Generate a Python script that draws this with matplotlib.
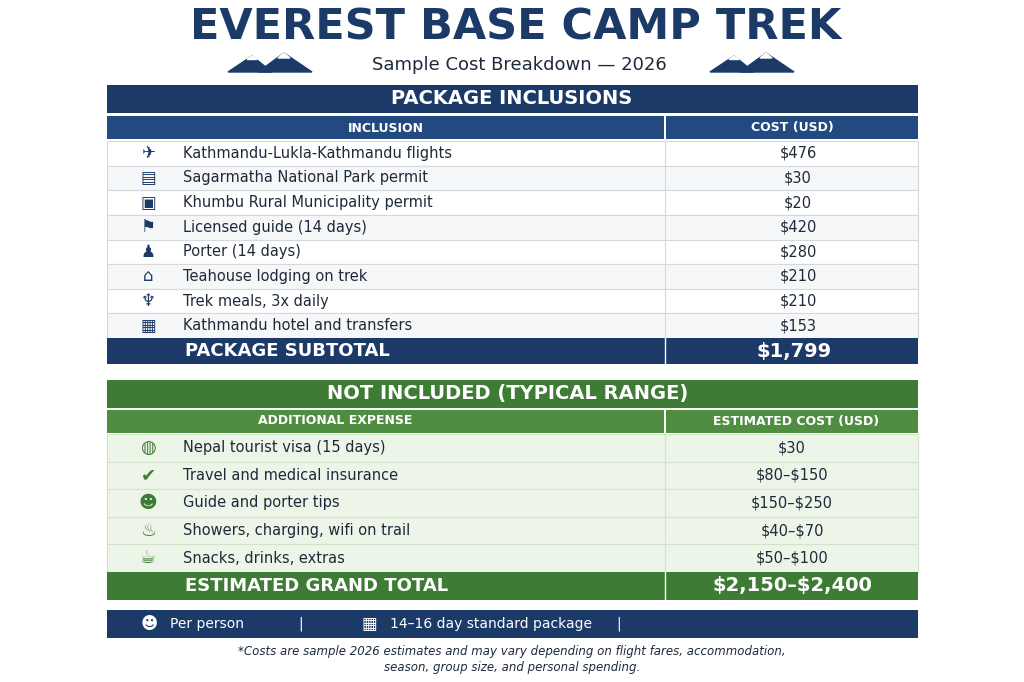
import matplotlib
matplotlib.use("Agg")
import matplotlib.pyplot as plt
from matplotlib.patches import Rectangle, Polygon

plt.rcParams['font.family'] = ['DejaVu Sans']
plt.rcParams['text.parse_math'] = False

title = "EVEREST BASE CAMP TREK"
subtitle = "Sample Cost Breakdown — 2026"

incl_items = ["Kathmandu-Lukla-Kathmandu flights", "Sagarmatha National Park permit",
              "Khumbu Rural Municipality permit", "Licensed guide (14 days)",
              "Porter (14 days)", "Teahouse lodging on trek", "Trek meals, 3x daily",
              "Kathmandu hotel and transfers"]
incl_costs = ["$476", "$30", "$20", "$420", "$280", "$210", "$210", "$153"]
incl_icons = ["✈", "▤", "▣", "⚑", "♟", "⌂", "♆", "▦"]
incl_total = "$1,799"

extra_items = ["Nepal tourist visa (15 days)", "Travel and medical insurance",
               "Guide and porter tips", "Showers, charging, wifi on trail",
               "Snacks, drinks, extras"]
extra_costs = ["$30", "$80–$150", "$150–$250", "$40–$70", "$50–$100"]
extra_icons = ["◍", "✔", "☻", "♨", "☕"]
grand_total = "$2,150–$2,400"

footnote = ["*Costs are sample 2026 estimates and may vary depending on flight fares, accommodation,",
            "season, group size, and personal spending."]

NAVY = "#1c3a68"
NAVY2 = "#234a80"
GREEN = "#3e7b34"
GREEN2 = "#4f8e40"
LGREEN = "#edf5e8"
TXT = "#1e2a3a"

fig = plt.figure(figsize=(10.24, 6.82), dpi=100)
ax = fig.add_axes([0, 0, 1, 1])
ax.set_xlim(0, 1024)
ax.set_ylim(682, 0)
ax.axis("off")

X0, X1, XC = 107, 918, 665

def bar(y0, y1, color, x0=X0, x1=X1):
    ax.add_patch(Rectangle((x0, y0), x1 - x0, y1 - y0, color=color, lw=0))

def mountains(cx):
    ax.add_patch(Polygon([(cx - 42, 72), (cx - 18, 56), (cx + 2, 72)], color=NAVY))
    ax.add_patch(Polygon([(cx - 12, 72), (cx + 14, 53), (cx + 42, 72)], color=NAVY))
    ax.add_patch(Polygon([(cx + 8, 58), (cx + 14, 53), (cx + 20, 58)], color="white"))
    ax.add_patch(Polygon([(cx - 23, 59.5), (cx - 18, 56), (cx - 13, 59.5)], color="white"))

ax.text(516, 27, title, ha="center", va="center", fontsize=31, fontweight="black", color=NAVY)
ax.text(519, 65, subtitle, ha="center", va="center", fontsize=13, color=TXT)
mountains(270)
mountains(752)

# table 1
bar(85, 113, NAVY)
ax.text(512, 99, "PACKAGE INCLUSIONS", ha="center", va="center", fontsize=14, fontweight="bold", color="white")
bar(116, 139, NAVY2, x1=XC - 1)
bar(116, 139, NAVY2, x0=XC + 1)
ax.text(386, 128, "INCLUSION", ha="center", va="center", fontsize=9, fontweight="bold", color="white")
ax.text(792, 128, "COST (USD)", ha="center", va="center", fontsize=9, fontweight="bold", color="white")
rh = (338 - 141) / len(incl_items)
for i, (name, cost, ic) in enumerate(zip(incl_items, incl_costs, incl_icons)):
    yc = 141 + rh * (i + 0.5)
    ax.add_patch(Rectangle((X0, 141 + rh * i), X1 - X0, rh, facecolor="white" if i % 2 == 0 else "#f6f7f9",
                           edgecolor="#d5d9df", lw=0.8))
    ax.text(148, yc, ic, ha="center", va="center", fontsize=12, color=NAVY)
    ax.text(183, yc, name, ha="left", va="center", fontsize=10.5, color=TXT)
    ax.text(798, yc, cost, ha="center", va="center", fontsize=10.5, color=TXT)
ax.plot([XC, XC], [141, 338], color="#d5d9df", lw=0.8)
bar(338, 364, NAVY)
ax.plot([XC, XC], [338, 364], color="white", lw=1)
ax.text(185, 351, "PACKAGE SUBTOTAL", ha="left", va="center", fontsize=13, fontweight="bold", color="white")
ax.text(794, 351, incl_total, ha="center", va="center", fontsize=14, fontweight="bold", color="white")

# table 2
bar(380, 408, GREEN)
ax.text(508, 394, "NOT INCLUDED (TYPICAL RANGE)", ha="center", va="center", fontsize=14, fontweight="bold", color="white")
bar(410, 433, GREEN2, x1=XC - 1)
bar(410, 433, GREEN2, x0=XC + 1)
ax.text(335, 421, "ADDITIONAL EXPENSE", ha="center", va="center", fontsize=9, fontweight="bold", color="white")
ax.text(796, 421, "ESTIMATED COST (USD)", ha="center", va="center", fontsize=9, fontweight="bold", color="white")
rh2 = (572 - 434) / len(extra_items)
for i, (name, cost, ic) in enumerate(zip(extra_items, extra_costs, extra_icons)):
    yc = 434 + rh2 * (i + 0.5)
    ax.add_patch(Rectangle((X0, 434 + rh2 * i), X1 - X0, rh2, facecolor=LGREEN, edgecolor="#d3e2cb", lw=0.8))
    ax.text(148, yc, ic, ha="center", va="center", fontsize=13, color=GREEN)
    ax.text(183, yc, name, ha="left", va="center", fontsize=10.5, color=TXT)
    ax.text(792, yc, cost, ha="center", va="center", fontsize=10.5, color=TXT)
ax.plot([XC, XC], [434, 572], color="#d3e2cb", lw=0.8)
bar(572, 600, GREEN)
ax.plot([XC, XC], [572, 600], color="white", lw=1)
ax.text(185, 586, "ESTIMATED GRAND TOTAL", ha="left", va="center", fontsize=13, fontweight="bold", color="white")
ax.text(792, 586, grand_total, ha="center", va="center", fontsize=14, fontweight="bold", color="white")

# footer
bar(610, 638, NAVY)
ax.text(149, 624, "☻", ha="center", va="center", fontsize=12, color="white")
ax.text(170, 624, "Per person", ha="left", va="center", fontsize=10, color="white")
ax.text(301, 624, "|", ha="center", va="center", fontsize=10, color="white")
ax.text(369, 624, "▦", ha="center", va="center", fontsize=12, color="white")
ax.text(390, 624, "14–16 day standard package", ha="left", va="center", fontsize=10, color="white")
ax.text(619, 624, "|", ha="center", va="center", fontsize=10, color="white")

ax.text(512, 652, footnote[0], ha="center", va="center", fontsize=8.5, style="italic", color=TXT)
ax.text(512, 667, footnote[1], ha="center", va="center", fontsize=8.5, style="italic", color=TXT)

fig.savefig("out.png", dpi=100, facecolor="white")
